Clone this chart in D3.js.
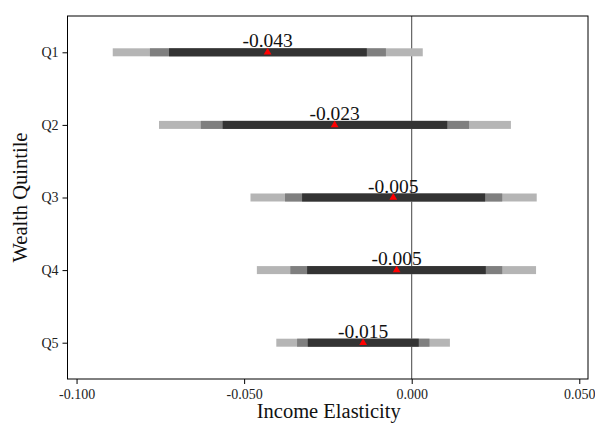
<!DOCTYPE html>
<html>
<head>
<meta charset="utf-8">
<script src="https://cdn.jsdelivr.net/npm/d3@7"></script>
<style>
html,body{margin:0;padding:0;background:#fff;}
svg{display:block;font-family:"Liberation Serif","Times New Roman",serif;}
</style>
</head>
<body>
<svg id="chart" width="595" height="424"></svg>
<script>
const categories = ["Q1","Q2","Q3","Q4","Q5"];
const estimates  = [-0.043, -0.023, -0.0055, -0.0045, -0.0145];
const labels     = ["-0.043","-0.023","-0.005","-0.005","-0.015"];
const ciOuterLo  = [-0.0892, -0.0754, -0.0481, -0.0462, -0.0404];
const ciOuterHi  = [ 0.0033,  0.0296,  0.0373,  0.0371,  0.0114];
const ciMidLo    = [-0.0781, -0.0629, -0.0378, -0.0362, -0.0342];
const ciMidHi    = [-0.0077,  0.0171,  0.0270,  0.0270,  0.0053];
const ciInnerLo  = [-0.0724, -0.0564, -0.0327, -0.0312, -0.0310];
const ciInnerHi  = [-0.0134,  0.0106,  0.0219,  0.0221,  0.0021];
const xTicks     = [-0.1, -0.05, 0, 0.05];

const svg = d3.select("#chart");
const L = 67.5, R = 588, T = 16, B = 379;
const x = d3.scaleLinear().domain([-0.1027, 0.0526]).range([L, R]);
const y = d3.scaleLinear().domain([0.5, 5.5]).range([T, B]);
const fmt = v => d3.format(".3f")(v).replace("\u2212","-");

// zero line
svg.append("line").attr("x1", x(0)).attr("x2", x(0)).attr("y1", T).attr("y2", B)
  .attr("stroke", "#444").attr("stroke-width", 1);

const bands = [
  {lo: ciOuterLo, hi: ciOuterHi, color: "#b5b5b5"},
  {lo: ciMidLo, hi: ciMidHi, color: "#7f7f7f"},
  {lo: ciInnerLo, hi: ciInnerHi, color: "#333333"}
];
const barH = 8;
bands.forEach(b => {
  svg.append("g").selectAll("rect").data(categories).join("rect")
    .attr("x", (d,i) => x(b.lo[i]))
    .attr("width", (d,i) => x(b.hi[i]) - x(b.lo[i]))
    .attr("y", (d,i) => y(i+1) - barH/2)
    .attr("height", barH)
    .attr("fill", b.color);
});

// points
svg.append("g").selectAll("path").data(categories).join("path")
  .attr("d", d3.symbol(d3.symbolTriangle, 26))
  .attr("transform", (d,i) => `translate(${x(estimates[i])},${y(i+1)})`)
  .attr("fill", "#ff0000");

// labels
svg.append("g").selectAll("text").data(categories).join("text")
  .attr("x", (d,i) => x(estimates[i]))
  .attr("y", (d,i) => y(i+1) - 5)
  .attr("text-anchor", "middle")
  .attr("font-size", 19.5)
  .attr("fill", "#111")
  .text((d,i) => labels[i]);

// frame
svg.append("rect").attr("x", L).attr("y", T).attr("width", R-L).attr("height", B-T)
  .attr("fill", "none").attr("stroke", "#000").attr("stroke-width", 1);

// x axis
const xAxis = svg.append("g").attr("transform", `translate(0,${B})`)
  .call(d3.axisBottom(x).tickValues(xTicks).tickFormat(fmt).tickSize(5).tickPadding(5));
xAxis.select(".domain").remove();
xAxis.selectAll("text").attr("font-size", 14).attr("font-family", "Liberation Serif").attr("fill", "#222");
xAxis.selectAll("line").attr("stroke", "#000");

// y axis
const yAxis = svg.append("g").attr("transform", `translate(${L},0)`)
  .call(d3.axisLeft(y).tickValues([1,2,3,4,5]).tickFormat(d => categories[d-1]).tickSize(5).tickPadding(4));
yAxis.select(".domain").remove();
yAxis.selectAll("text").attr("font-size", 14).attr("font-family", "Liberation Serif").attr("fill", "#222");
yAxis.selectAll("line").attr("stroke", "#000");

// titles
svg.append("text").attr("x", (L+R)/2 + 1).attr("y", 418).attr("text-anchor", "middle")
  .attr("font-size", 20.5).attr("fill", "#111").text("Income Elasticity");
svg.append("text").attr("transform", `translate(27,${(T+B)/2}) rotate(-90)`)
  .attr("text-anchor", "middle").attr("font-size", 20.5).attr("fill", "#111").text("Wealth Quintile");
</script>
</body>
</html>
